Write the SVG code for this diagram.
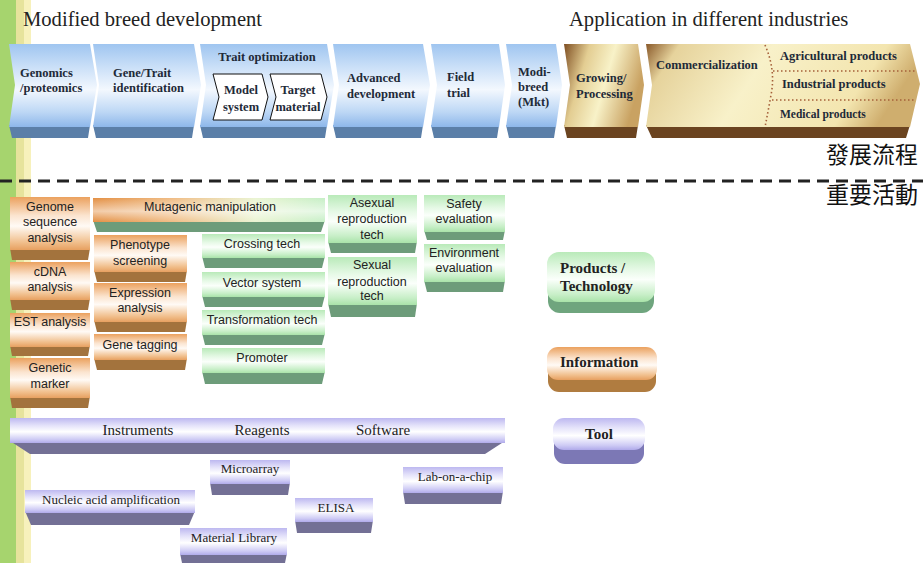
<svg xmlns="http://www.w3.org/2000/svg" width="923" height="563" viewBox="0 0 923 563">
<defs>
<linearGradient id="gBlue" x1="0" y1="0" x2="0" y2="1">
<stop offset="0" stop-color="#9fc5f0"/><stop offset="0.25" stop-color="#c6ddf7"/><stop offset="0.55" stop-color="#f3f8fe"/><stop offset="0.82" stop-color="#bdd7f5"/><stop offset="1" stop-color="#8db7ea"/>
</linearGradient>
<linearGradient id="gBrown1" x1="0" y1="0" x2="1" y2="0.3">
<stop offset="0" stop-color="#7e4e22"/><stop offset="0.3" stop-color="#e3cd92"/><stop offset="0.6" stop-color="#f8f2c8"/><stop offset="1" stop-color="#c9a262"/>
</linearGradient>
<linearGradient id="gBrown2" x1="0" y1="0" x2="1" y2="0.2">
<stop offset="0" stop-color="#8a5a2b"/><stop offset="0.12" stop-color="#e6d39c"/><stop offset="0.45" stop-color="#f8f1c9"/><stop offset="0.85" stop-color="#f3e5af"/><stop offset="1" stop-color="#cfae6e"/>
</linearGradient>
<linearGradient id="gOrange" x1="0" y1="0" x2="0" y2="1">
<stop offset="0" stop-color="#eba15e"/><stop offset="0.35" stop-color="#fbe4cf"/><stop offset="0.55" stop-color="#fffaf5"/><stop offset="0.85" stop-color="#f1c08e"/><stop offset="1" stop-color="#e7a060"/>
</linearGradient>
<linearGradient id="gGreen" x1="0" y1="0" x2="0" y2="1">
<stop offset="0" stop-color="#b9eab9"/><stop offset="0.35" stop-color="#e6f9e6"/><stop offset="0.55" stop-color="#fbfffb"/><stop offset="0.85" stop-color="#c8efc8"/><stop offset="1" stop-color="#a9e3a9"/>
</linearGradient>
<linearGradient id="gPurple" x1="0" y1="0" x2="0" y2="1">
<stop offset="0" stop-color="#bdb8f0"/><stop offset="0.3" stop-color="#e4e2fa"/><stop offset="0.55" stop-color="#ffffff"/><stop offset="0.85" stop-color="#cfccf5"/><stop offset="1" stop-color="#b0aaea"/>
</linearGradient>
<linearGradient id="gMut" x1="0" y1="0" x2="1" y2="0">
<stop offset="0" stop-color="#e38f43"/><stop offset="0.35" stop-color="#f0bd86"/><stop offset="0.7" stop-color="#eaf4d2"/><stop offset="1" stop-color="#c6efc6"/>
</linearGradient>
<linearGradient id="gShine" x1="0" y1="0" x2="0" y2="1">
<stop offset="0" stop-color="#ffffff" stop-opacity="0"/><stop offset="0.55" stop-color="#ffffff" stop-opacity="0.55"/><stop offset="1" stop-color="#ffffff" stop-opacity="0"/>
</linearGradient>
<style>
.cv{fill:url(#gBlue)}
.cvb{fill:#5b7fa8}
.br1{fill:url(#gBrown1)}
.br2{fill:url(#gBrown2)}
.brb{fill:#6b4420}
.or{fill:url(#gOrange)}
.orb{fill:#a3733d}
.gr{fill:url(#gGreen)}
.grb{fill:#6d9c7a}
.pu{fill:url(#gPurple)}
.pub{fill:#737095}
.inner{fill:#ffffff;stroke:#111;stroke-width:1}
.ct{font-family:"Liberation Serif","Times New Roman",serif;font-weight:bold;font-size:12.5px;fill:#1e2a38}
.ctc{font-family:"Liberation Serif","Times New Roman",serif;font-weight:bold;font-size:12.5px;fill:#1e2a38;text-anchor:middle}
.h{font-family:"Liberation Serif","Times New Roman",serif;font-size:20.6px;fill:#222}
.bx{font-family:"Liberation Sans",Arial,sans-serif;font-size:12.5px;fill:#222;text-anchor:middle}
.tl{font-family:"Liberation Serif","Times New Roman",serif;font-size:15px;fill:#222;text-anchor:middle}
.ts{font-family:"Liberation Serif","Times New Roman",serif;font-size:13px;fill:#222;text-anchor:middle}
.lg{font-family:"Liberation Serif","Times New Roman",serif;font-weight:bold;font-size:15px;fill:#222}
.cjk{font-family:"Liberation Sans","Noto Sans CJK TC",sans-serif;font-size:23px;fill:#111}
.dot{fill:none;stroke:#a5603a;stroke-width:1.6;stroke-dasharray:1.5 2.5}
</style>
</defs>

<rect x="0" y="0" width="923" height="563" fill="#ffffff"/>

<!-- left decorative strip -->
<rect x="0" y="0" width="16" height="563" fill="#a6d46e"/>
<rect x="16" y="0" width="8" height="563" fill="#e6e39c"/>
<rect x="24" y="0" width="7" height="563" fill="#f7f1bc"/>

<!-- headings -->
<text class="h" x="23" y="26">Modified breed development</text>
<text class="h" x="569" y="26">Application in different industries</text>
<text class="cjk" x="826" y="163">發展流程</text>
<text class="cjk" x="826" y="203">重要活動</text>

<!-- separator -->
<line x1="0" y1="181" x2="923" y2="181" stroke="#222" stroke-width="3" stroke-dasharray="12 7"/>

<!-- process chevrons -->
<g id="genomics">
<polygon class="cvb" points="9,125 90,125 88,138 12,138"/>
<polygon class="cv" points="9,44 90,44 97,85 90,127 9,127 15,85"/>
<text class="ct" x="20" y="77">Genomics</text>
<text class="ct" x="20" y="92">/proteomics</text>
</g>
<g id="gene-trait">
<polygon class="cvb" points="93,125 194,125 192,138 96,138"/>
<polygon class="cv" points="93,44 194,44 201,85 194,127 93,127 99,85"/>
<text class="ct" x="113" y="77">Gene/Trait</text>
<text class="ct" x="113" y="92">identification</text>
</g>
<g id="trait-optimization">
<polygon class="cvb" points="200,125 327,125 325,138 203,138"/>
<polygon class="cv" points="200,44 327,44 334,85 327,127 200,127 206,85"/>
<text class="ctc" x="267" y="61">Trait optimization</text>
</g>
<g id="model-system">
<polygon class="inner" points="213,74 262,74 268,97 262,120 213,120 219,97"/>
<text class="ctc" x="241" y="94">Model</text>
<text class="ctc" x="241" y="111">system</text>
</g>
<g id="target-material">
<polygon class="inner" points="270,74 321,74 327,97 321,120 270,120 276,97"/>
<text class="ctc" x="298" y="94">Target</text>
<text class="ctc" x="298" y="111">material</text>
</g>
<g id="advanced-development">
<polygon class="cvb" points="333,125 423,125 421,138 336,138"/>
<polygon class="cv" points="333,44 423,44 430,85 423,127 333,127 339,85"/>
<text class="ct" x="347" y="82">Advanced</text>
<text class="ct" x="347" y="98">development</text>
</g>
<g id="field-trial">
<polygon class="cvb" points="431,125 499,125 497,138 434,138"/>
<polygon class="cv" points="431,44 499,44 505,85 499,127 431,127 437,85"/>
<text class="ct" x="447" y="81">Field</text>
<text class="ct" x="447" y="97">trial</text>
</g>
<g id="modi-breed">
<polygon class="cvb" points="506,125 556,125 554,138 509,138"/>
<polygon class="cv" points="506,44 556,44 562,85 556,127 506,127 512,85"/>
<text class="ct" x="518" y="76">Modi-</text>
<text class="ct" x="518" y="91">breed</text>
<text class="ct" x="518" y="106">(Mkt)</text>
</g>
<g id="growing-processing">
<polygon class="brb" points="564,125 638,125 636,138 567,138"/>
<polygon class="br1" points="564,44 638,44 644,85 638,127 564,127 570,85"/>
<text class="ct" x="576" y="82">Growing/</text>
<text class="ct" x="576" y="98">Processing</text>
</g>
<g id="commercialization">
<polygon class="brb" points="646,125 910,125 906,138 652,138"/>
<polygon class="br2" points="646,44 910,44 920,84 910,127 646,127 652,85"/>
<path class="dot" d="M765,45 Q776,70 771,95 Q768,112 765,127"/>
<line class="dot" x1="773" y1="71" x2="915" y2="71"/>
<line class="dot" x1="772" y1="100" x2="914" y2="100"/>
<text class="ct" x="656" y="69">Commercialization</text>
<text class="ct" x="780" y="60">Agricultural products</text>
<text class="ct" x="782" y="88">Industrial products</text>
<text class="ct" x="780" y="118" style="font-size:11.5px">Medical products</text>
</g>

<!-- information boxes (orange) -->
<g id="genome-sequence-analysis">
<polygon class="orb" points="10,248 90,248 88,260 12,260"/>
<rect class="or" x="10" y="197" width="80" height="53"/>
<text class="bx" x="50" y="211">Genome</text>
<text class="bx" x="50" y="226">sequence</text>
<text class="bx" x="50" y="242">analysis</text>
</g>
<g id="cdna-analysis">
<polygon class="orb" points="10,298 90,298 88,310 12,310"/>
<rect class="or" x="10" y="262" width="80" height="38"/>
<text class="bx" x="50" y="276">cDNA</text>
<text class="bx" x="50" y="291">analysis</text>
</g>
<g id="est-analysis">
<polygon class="orb" points="10,345 90,345 88,356 12,356"/>
<rect class="or" x="10" y="313" width="80" height="34"/>
<text class="bx" x="50" y="326">EST analysis</text>
</g>
<g id="genetic-marker">
<polygon class="orb" points="10,396 90,396 88,408 12,408"/>
<rect class="or" x="10" y="358" width="80" height="40"/>
<text class="bx" x="50" y="372">Genetic</text>
<text class="bx" x="50" y="388">marker</text>
</g>
<g id="mutagenic-manipulation">
<polygon class="grb" points="93,220 325,220 321,232 97,232"/>
<rect x="93" y="198" width="232" height="24" fill="url(#gMut)"/>
<rect x="93" y="198" width="232" height="24" fill="url(#gShine)"/>
<text class="bx" x="210" y="211">Mutagenic manipulation</text>
</g>
<g id="phenotype-screening">
<polygon class="orb" points="94,270 187,270 185,282 97,282"/>
<rect class="or" x="94" y="235" width="93" height="37"/>
<text class="bx" x="140" y="249">Phenotype</text>
<text class="bx" x="140" y="265">screening</text>
</g>
<g id="expression-analysis">
<polygon class="orb" points="94,320 187,320 185,332 97,332"/>
<rect class="or" x="94" y="283" width="93" height="39"/>
<text class="bx" x="140" y="297">Expression</text>
<text class="bx" x="140" y="312">analysis</text>
</g>
<g id="gene-tagging">
<polygon class="orb" points="94,358 187,358 185,370 97,370"/>
<rect class="or" x="94" y="334" width="93" height="26"/>
<text class="bx" x="140" y="349">Gene tagging</text>
</g>

<!-- products / technology boxes (green) -->
<g id="crossing-tech">
<polygon class="grb" points="202,256 325,256 322,268 205,268"/>
<rect class="gr" x="202" y="234" width="123" height="24"/>
<text class="bx" x="262" y="248">Crossing tech</text>
</g>
<g id="vector-system">
<polygon class="grb" points="202,295 325,295 322,307 205,307"/>
<rect class="gr" x="202" y="272" width="123" height="25"/>
<text class="bx" x="262" y="287">Vector system</text>
</g>
<g id="transformation-tech">
<polygon class="grb" points="202,333 325,333 322,345 205,345"/>
<rect class="gr" x="202" y="310" width="123" height="25"/>
<text class="bx" x="262" y="324">Transformation tech</text>
</g>
<g id="promoter">
<polygon class="grb" points="202,371 325,371 322,384 205,384"/>
<rect class="gr" x="202" y="348" width="123" height="25"/>
<text class="bx" x="262" y="362">Promoter</text>
</g>
<g id="asexual-reproduction-tech">
<polygon class="grb" points="328,241 417,241 415,253 331,253"/>
<rect class="gr" x="328" y="195" width="89" height="48"/>
<text class="bx" x="372" y="207">Asexual</text>
<text class="bx" x="372" y="223">reproduction</text>
<text class="bx" x="372" y="239">tech</text>
</g>
<g id="sexual-reproduction-tech">
<polygon class="grb" points="328,303 417,303 415,317 331,317"/>
<rect class="gr" x="328" y="257" width="89" height="48"/>
<text class="bx" x="372" y="269">Sexual</text>
<text class="bx" x="372" y="286">reproduction</text>
<text class="bx" x="372" y="300">tech</text>
</g>
<g id="safety-evaluation">
<polygon class="grb" points="424,230 505,230 503,240 427,240"/>
<rect class="gr" x="424" y="195" width="81" height="37"/>
<text class="bx" x="464" y="208">Safety</text>
<text class="bx" x="464" y="223">evaluation</text>
</g>
<g id="environment-evaluation">
<polygon class="grb" points="424,280 505,280 503,292 427,292"/>
<rect class="gr" x="424" y="244" width="81" height="38"/>
<text class="bx" x="464" y="257">Environment</text>
<text class="bx" x="464" y="272">evaluation</text>
</g>

<!-- tool boxes (purple) -->
<g id="tools-bar">
<polygon class="pub" points="10,441 505,441 485,454 30,454"/>
<rect class="pu" x="10" y="418" width="495" height="25"/>
<text class="tl" x="138" y="435">Instruments</text>
<text class="tl" x="262" y="435">Reagents</text>
<text class="tl" x="383" y="435">Software</text>
</g>
<g id="microarray">
<polygon class="pub" points="210,482 290,482 288,495 212,495"/>
<rect class="pu" x="210" y="460" width="80" height="24"/>
<text class="ts" x="250" y="473">Microarray</text>
</g>
<g id="nucleic-acid-amplification">
<polygon class="pub" points="25,511 195,511 189,525 31,525"/>
<rect class="pu" x="25" y="490" width="170" height="23"/>
<text class="ts" x="111" y="504">Nucleic acid amplification</text>
</g>
<g id="elisa">
<polygon class="pub" points="295,520 373,520 371,533 297,533"/>
<rect class="pu" x="295" y="498" width="78" height="24"/>
<text class="ts" x="336" y="512">ELISA</text>
</g>
<g id="lab-on-a-chip">
<polygon class="pub" points="403,491 503,491 501,504 405,504"/>
<rect class="pu" x="403" y="467" width="100" height="26"/>
<text class="ts" x="455" y="481">Lab-on-a-chip</text>
</g>
<g id="material-library">
<polygon class="pub" points="180,553 287,553 285,563 182,563"/>
<rect class="pu" x="180" y="528" width="107" height="27"/>
<text class="ts" x="234" y="542">Material Library</text>
</g>

<!-- legend -->
<g id="legend-products-technology">
<rect x="548" y="262" width="106" height="51" rx="12" fill="#6fa57e"/>
<rect class="gr" x="547" y="252" width="108" height="50" rx="12"/>
<text class="lg" x="560" y="273">Products /</text>
<text class="lg" x="560" y="291">Technology</text>
</g>
<g id="legend-information">
<rect x="548" y="360" width="108" height="32" rx="11" fill="#b07c40"/>
<rect class="or" x="547" y="347" width="110" height="33" rx="11"/>
<text class="lg" x="560" y="367">Information</text>
</g>
<g id="legend-tool">
<rect x="554" y="432" width="90" height="32" rx="11" fill="#7c78b5"/>
<rect class="pu" x="553" y="418" width="92" height="32" rx="11"/>
<text class="lg" x="599" y="439" text-anchor="middle">Tool</text>
</g>

<g id="connectors"></g>
</svg>
